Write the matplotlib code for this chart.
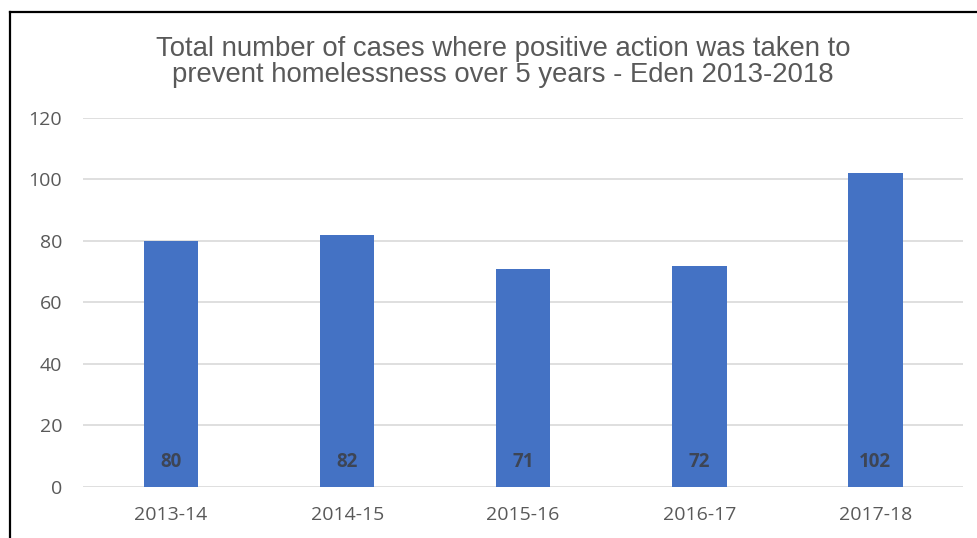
import matplotlib.pyplot as plt
from matplotlib.lines import Line2D

years = ['2013-14', '2014-15', '2015-16', '2016-17', '2017-18']
cases = [80, 82, 71, 72, 102]
yticks = [0, 20, 40, 60, 80, 100, 120]

fig = plt.figure(figsize=(9.77, 5.38), dpi=100)
ax = fig.add_axes([0.085, 0.0948, 0.901, 0.686])

x = range(len(years))
ax.bar(x, cases, width=0.31, color='#4472C4', zorder=3)
for i, v in enumerate(cases):
    ax.text(i, 8, str(v), ha='center', va='center', fontsize=13.5,
            fontweight='bold', color='#3d4555', family='Open Sans', zorder=4)

ax.set_xlim(-0.5, len(years) - 0.5)
ax.set_ylim(0, 120)
ax.set_yticks(yticks)
ax.set_xticks(list(x))
ax.set_xticklabels(years)
ax.grid(axis='y', color='#d9d9d9', linewidth=1.2, zorder=0)
for s in ax.spines.values():
    s.set_visible(False)
ax.tick_params(length=0, colors='#595959', labelsize=14)
ax.tick_params(axis='y', pad=15)
ax.tick_params(axis='x', pad=14)
for lab in ax.get_xticklabels() + ax.get_yticklabels():
    lab.set_family('Open Sans')

fig.text(0.515, 0.885, 'Total number of cases where positive action was taken to\n'
         'prevent homelessness over 5 years - Eden 2013-2018',
         ha='center', va='center', fontsize=19.8, color='#595959',
         family='Liberation Sans', linespacing=1.0)

# black frame from the screenshot
fig.add_artist(Line2D([0.0105, 0.0105], [0, 0.978], color='black', linewidth=1.6,
                      transform=fig.transFigure))
fig.add_artist(Line2D([0.0105, 1.0], [0.978, 0.978], color='black', linewidth=1.6,
                      transform=fig.transFigure))

fig.savefig('out.png', dpi=100)
